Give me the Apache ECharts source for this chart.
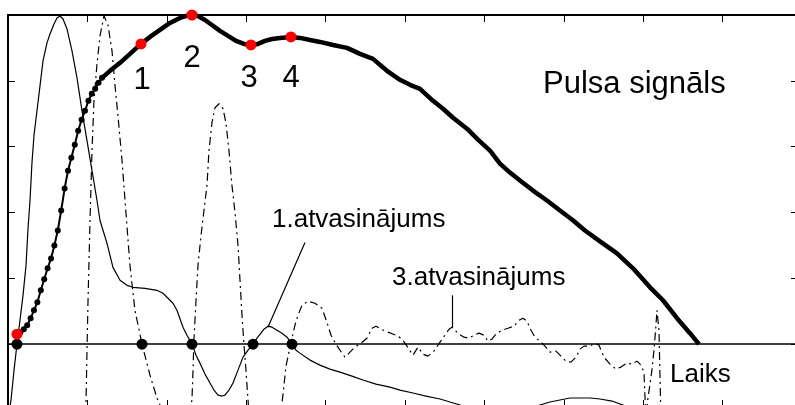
<!DOCTYPE html>
<html>
<head>
<meta charset="utf-8">
<script src="https://cdn.jsdelivr.net/npm/echarts@6/dist/echarts.min.js"></script>
<style>
  html, body { margin: 0; padding: 0; background: #fff; }
  #chart { width: 795px; height: 405px; }
</style>
</head>
<body>
<div id="chart"></div>
<script>
// Time in seconds, amplitude in arbitrary units.

// Pulse signal: [t, value]. The first RISE_COUNT samples are the upstroke.
const pulse = [
  [0.0113, 0.152], [0.0156, 0.182], [0.0199, 0.227], [0.0242, 0.288], [0.0285, 0.394],
  [0.0327, 0.515], [0.0370, 0.636], [0.0413, 0.818], [0.0456, 0.985], [0.0499, 1.152],
  [0.0542, 1.303], [0.0584, 1.500], [0.0627, 1.727], [0.0670, 2.030], [0.0713, 2.364],
  [0.0756, 2.636], [0.0798, 2.833], [0.0841, 3.030], [0.0884, 3.242], [0.0927, 3.409],
  [0.0970, 3.545], [0.1013, 3.697], [0.1055, 3.803], [0.1098, 3.879], [0.1141, 3.970],
  [0.1184, 4.045],
  [0.1285, 4.152], [0.1411, 4.273], [0.1537, 4.409], [0.1675, 4.561], [0.1788, 4.667],
  [0.1914, 4.773], [0.2040, 4.879], [0.2166, 4.955], [0.2242, 4.985], [0.2317, 5.000],
  [0.2393, 4.985], [0.2481, 4.924], [0.2569, 4.848], [0.2670, 4.758], [0.2771, 4.682],
  [0.2872, 4.606], [0.2972, 4.561], [0.3060, 4.545], [0.3149, 4.561], [0.3237, 4.606],
  [0.3325, 4.636], [0.3426, 4.652], [0.3564, 4.667], [0.3678, 4.652], [0.3804, 4.621],
  [0.3929, 4.591], [0.4093, 4.545], [0.4270, 4.500], [0.4433, 4.409], [0.4597, 4.333],
  [0.4773, 4.152], [0.4937, 4.015], [0.5063, 3.939], [0.5189, 3.879], [0.5353, 3.697],
  [0.5479, 3.576], [0.5605, 3.439], [0.5781, 3.273], [0.5919, 3.106], [0.6071, 2.939],
  [0.6196, 2.742], [0.6322, 2.606], [0.6448, 2.485], [0.6612, 2.333], [0.6788, 2.182],
  [0.6952, 2.030], [0.7103, 1.894], [0.7267, 1.727], [0.7456, 1.561], [0.7670, 1.379],
  [0.7872, 1.152], [0.8086, 0.864], [0.8249, 0.667], [0.8426, 0.394], [0.8589, 0.167],
  [0.8703, 0.000]
];
const RISE_COUNT = 26;

// First derivative (scaled)
const firstDeriv = [
  [0.0000, -1.152], [0.0038, -0.848], [0.0076, -0.394], [0.0113, 0.000], [0.0151, 0.364],
  [0.0189, 0.742], [0.0227, 1.197], [0.0252, 1.758], [0.0277, 2.182], [0.0302, 2.758],
  [0.0327, 3.167], [0.0365, 3.545], [0.0403, 3.924], [0.0441, 4.303], [0.0491, 4.576],
  [0.0529, 4.712], [0.0579, 4.864], [0.0617, 4.955], [0.0655, 4.985], [0.0693, 4.939],
  [0.0743, 4.788], [0.0806, 4.455], [0.0869, 4.045], [0.0932, 3.545], [0.0995, 3.091],
  [0.1058, 2.636], [0.1121, 2.182], [0.1159, 1.879], [0.1247, 1.530], [0.1322, 1.167],
  [0.1411, 0.970], [0.1499, 0.894], [0.1574, 0.864], [0.1725, 0.848], [0.1876, 0.818],
  [0.1952, 0.773], [0.2002, 0.712], [0.2078, 0.621], [0.2128, 0.515], [0.2204, 0.258],
  [0.2254, 0.136], [0.2317, 0.000], [0.2368, -0.167], [0.2418, -0.288], [0.2481, -0.455],
  [0.2544, -0.591], [0.2594, -0.697], [0.2645, -0.773], [0.2695, -0.788], [0.2733, -0.773],
  [0.2783, -0.697], [0.2834, -0.591], [0.2897, -0.394], [0.2960, -0.197], [0.3023, -0.091],
  [0.3086, 0.000], [0.3136, 0.091], [0.3186, 0.167], [0.3224, 0.227], [0.3274, 0.273],
  [0.3325, 0.258], [0.3388, 0.212], [0.3451, 0.167], [0.3514, 0.106], [0.3577, 0.000],
  [0.3627, -0.091], [0.3677, -0.136], [0.3803, -0.242], [0.3929, -0.318], [0.4055, -0.379],
  [0.4181, -0.424], [0.4332, -0.485], [0.4471, -0.545], [0.4634, -0.606], [0.4811, -0.652],
  [0.4937, -0.697], [0.5101, -0.742], [0.5264, -0.788], [0.5441, -0.833], [0.5567, -0.879],
  [0.5693, -0.924], [0.5945, -1.030], [0.6196, -1.061], [0.6448, -1.015], [0.6700, -0.924],
  [0.6826, -0.879], [0.6952, -0.848], [0.7078, -0.818], [0.7204, -0.818], [0.7330, -0.818],
  [0.7456, -0.833], [0.7607, -0.864], [0.7745, -0.924], [0.7959, -1.045], [0.8211, -1.182],
  [0.8463, -1.333], [0.8703, -1.455]
];

// Third derivative (scaled)
const thirdDeriv = [
  [0.0957, -1.606], [0.0982, -0.924], [0.0995, -0.091], [0.1008, 0.667], [0.1033, 1.879],
  [0.1058, 2.939], [0.1083, 3.697], [0.1121, 4.258], [0.1159, 4.682], [0.1209, 4.985],
  [0.1259, 4.848], [0.1310, 4.455], [0.1348, 3.924], [0.1385, 3.470], [0.1436, 2.788],
  [0.1474, 2.182], [0.1536, 1.197], [0.1599, 0.515], [0.1688, 0.000], [0.1788, -0.470],
  [0.1876, -0.818], [0.1952, -1.030], [0.2103, -1.455], [0.2229, -1.379], [0.2292, -1.000],
  [0.2317, -0.848], [0.2330, -0.394], [0.2342, 0.061], [0.2368, 0.667], [0.2393, 1.197],
  [0.2431, 1.652], [0.2468, 2.030], [0.2506, 2.409], [0.2531, 2.939], [0.2569, 3.364],
  [0.2607, 3.591], [0.2657, 3.652], [0.2708, 3.576], [0.2745, 3.364], [0.2783, 2.939],
  [0.2821, 2.409], [0.2859, 2.000], [0.2897, 1.500], [0.2922, 0.970], [0.2947, 0.439],
  [0.2972, 0.000], [0.2997, -0.394], [0.3023, -0.848], [0.3060, -1.455], [0.3199, -1.909],
  [0.3363, -1.455], [0.3438, -1.000], [0.3463, -0.773], [0.3501, -0.333], [0.3539, -0.121],
  [0.3577, 0.091], [0.3614, 0.288], [0.3652, 0.439], [0.3703, 0.591], [0.3778, 0.652],
  [0.3866, 0.621], [0.3955, 0.545], [0.4017, 0.333], [0.4068, 0.136], [0.4131, 0.000],
  [0.4181, -0.091], [0.4244, -0.197], [0.4307, -0.121], [0.4370, -0.045], [0.4446, 0.015],
  [0.4521, 0.091], [0.4584, 0.242], [0.4635, 0.273], [0.4698, 0.227], [0.4786, 0.182],
  [0.4886, 0.136], [0.4949, 0.091], [0.5000, 0.015], [0.5050, -0.076], [0.5101, -0.167],
  [0.5164, -0.045], [0.5227, -0.152], [0.5289, -0.182], [0.5365, -0.106], [0.5441, 0.030],
  [0.5504, 0.136], [0.5554, 0.227], [0.5592, 0.258], [0.5630, 0.212], [0.5680, 0.152],
  [0.5743, 0.106], [0.5806, 0.091], [0.5869, 0.136], [0.5932, 0.167], [0.5995, 0.136],
  [0.6045, 0.045], [0.6095, 0.076], [0.6146, 0.152], [0.6221, 0.212], [0.6297, 0.242],
  [0.6373, 0.273], [0.6436, 0.364], [0.6486, 0.394], [0.6536, 0.348], [0.6587, 0.212],
  [0.6637, 0.106], [0.6700, 0.045], [0.6763, -0.030], [0.6826, -0.121], [0.6902, -0.106],
  [0.6965, -0.182], [0.7027, -0.258], [0.7090, -0.273], [0.7153, -0.197], [0.7204, -0.076],
  [0.7254, -0.030], [0.7330, -0.030], [0.7393, 0.015], [0.7443, -0.015], [0.7506, -0.197],
  [0.7582, -0.303], [0.7657, -0.379], [0.7720, -0.348], [0.7796, -0.288], [0.7859, -0.303],
  [0.7922, -0.258], [0.7972, -0.318], [0.8010, -0.424], [0.8035, -1.152], [0.8060, -0.818],
  [0.8085, -0.621], [0.8110, -0.394], [0.8136, -0.091], [0.8161, 0.288], [0.8174, 0.515],
  [0.8199, 0.212], [0.8224, -1.152], [0.8274, -1.758]
];

// Characteristic points on the pulse (start, 1, 2, 3, 4)
const charPoints = [
  [0.0113, 0.152], [0.1675, 4.561], [0.2317, 5.000], [0.3060, 4.545], [0.3564, 4.667]
];
// Their positions on the time axis
const zeroCrossings = [0.0113, 0.1688, 0.2317, 0.3086, 0.3577];

// Pointer lines from the labels to the curves: [from, to]
const pointerFirst = [[0.3741, 1.545], [0.3274, 0.258]];
const pointerThird = [[0.5592, 0.742], [0.5592, 0.258]];

// Axis ranges
const T_MAX = 0.995, T_STEP = 0.1;
const Y_MIN = -1, Y_MAX = 5, Y_STEP = 1;

const FONT = '"Liberation Sans", Arial, Helvetica, sans-serif';
const black = '#000';

const chart = echarts.init(document.getElementById('chart'), null, { renderer: 'canvas' });

function xAxisDef(position, tickLen) {
  return {
    type: 'value', position, min: 0, max: T_MAX, interval: T_STEP,
    axisLine: { show: true, onZero: false, lineStyle: { color: black, width: 2 } },
    axisTick: { show: true, inside: true, length: tickLen, lineStyle: { color: black, width: 1 } },
    axisLabel: { show: false }, splitLine: { show: false }
  };
}
function yAxisDef(position) {
  return {
    type: 'value', position, min: Y_MIN, max: Y_MAX, interval: Y_STEP,
    axisLine: { show: true, onZero: false, lineStyle: { color: black, width: 2 } },
    axisTick: { show: true, inside: true, length: 7, lineStyle: { color: black, width: 1 } },
    axisLabel: { show: false }, splitLine: { show: false }
  };
}

const textStyle = (size) => ({ fontFamily: FONT, fontSize: size, fill: black });

const option = {
  animation: false,
  backgroundColor: '#fff',
  grid: { left: 8, top: 15, width: 790, height: 395, containLabel: false, outerBoundsMode: 'none' },
  xAxis: [xAxisDef('bottom', 10), xAxisDef('top', 7)],
  yAxis: [yAxisDef('left'), yAxisDef('right')],
  series: [
    {
      name: '1.atvasinājums', type: 'line', data: firstDeriv,
      showSymbol: false, symbol: 'none', clip: true, silent: true,
      lineStyle: { color: black, width: 1.2 },
      markLine: {
        silent: true, symbol: 'none', label: { show: false },
        lineStyle: { color: black, width: 1.2, type: 'solid' },
        data: [[{ coord: pointerFirst[0] }, { coord: pointerFirst[1] }]]
      }
    },
    {
      name: '3.atvasinājums', type: 'line', data: thirdDeriv,
      showSymbol: false, symbol: 'none', clip: true, silent: true,
      lineStyle: { color: black, width: 1.2, type: [8, 4, 2, 4] },
      markLine: {
        silent: true, symbol: 'none', label: { show: false },
        lineStyle: { color: black, width: 1.2, type: 'solid' },
        data: [[{ coord: pointerThird[0] }, { coord: pointerThird[1] }]]
      }
    },
    {
      name: 'Pulsa signāls', type: 'line', data: pulse.slice(RISE_COUNT - 1),
      showSymbol: false, symbol: 'none', clip: true, silent: true,
      lineStyle: { color: black, width: 4.5 },
      markLine: {
        silent: true, symbol: 'none', label: { show: false },
        lineStyle: { color: black, width: 1.5, type: 'solid' },
        data: [{ yAxis: 0 }]
      }
    },
    {
      name: 'Pulsa signāls (kāpums)', type: 'line', data: pulse.slice(0, RISE_COUNT),
      symbol: 'circle', symbolSize: 6, showSymbol: true, clip: true, silent: true,
      itemStyle: { color: black, opacity: 1 },
      lineStyle: { color: black, width: 2 }
    },
    {
      type: 'scatter', data: zeroCrossings.map(t => [t, 0]),
      symbol: 'circle', symbolSize: 11, silent: true, z: 4,
      itemStyle: { color: black, opacity: 1 }
    },
    {
      type: 'scatter', data: charPoints,
      symbol: 'circle', symbolSize: 11, silent: true, z: 5, clip: false,
      itemStyle: { color: '#ff0000', opacity: 1 }
    }
  ],
  graphic: [
    { type: 'text', x: 543, y: 84, style: Object.assign({ text: 'Pulsa signāls', align: 'left', verticalAlign: 'middle' }, textStyle(31)) },
    { type: 'text', x: 142, y: 80, style: Object.assign({ text: '1', align: 'center', verticalAlign: 'middle' }, textStyle(31)) },
    { type: 'text', x: 192, y: 58, style: Object.assign({ text: '2', align: 'center', verticalAlign: 'middle' }, textStyle(31)) },
    { type: 'text', x: 249, y: 78, style: Object.assign({ text: '3', align: 'center', verticalAlign: 'middle' }, textStyle(31)) },
    { type: 'text', x: 291, y: 78, style: Object.assign({ text: '4', align: 'center', verticalAlign: 'middle' }, textStyle(31)) },
    { type: 'text', x: 272, y: 220, style: Object.assign({ text: '1.atvasinājums', align: 'left', verticalAlign: 'middle' }, textStyle(26)) },
    { type: 'text', x: 392, y: 278, style: Object.assign({ text: '3.atvasinājums', align: 'left', verticalAlign: 'middle' }, textStyle(26)) },
    { type: 'text', x: 670, y: 375, style: Object.assign({ text: 'Laiks', align: 'left', verticalAlign: 'middle' }, textStyle(26)) }
  ]
};

chart.setOption(option);
</script>
</body>
</html>
